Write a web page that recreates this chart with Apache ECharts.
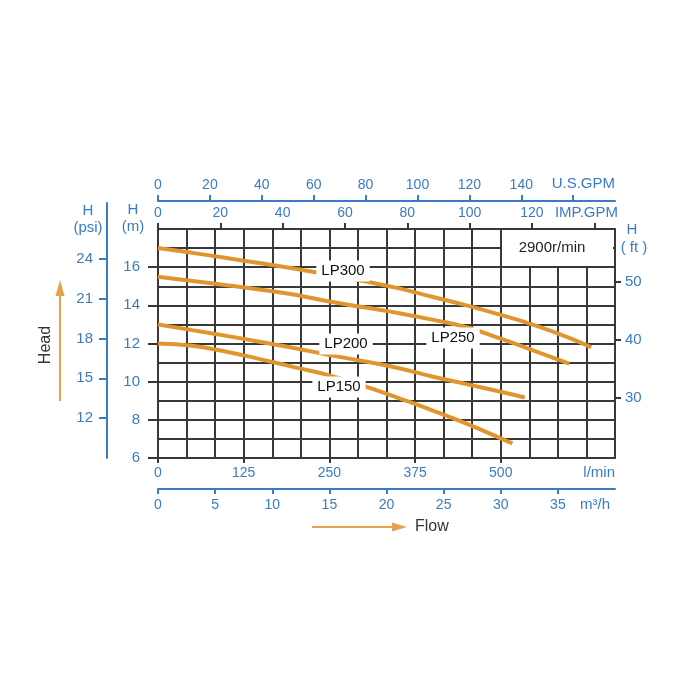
<!DOCTYPE html>
<html>
<head>
<meta charset="utf-8">
<script src="https://cdn.jsdelivr.net/npm/echarts@6/dist/echarts.min.js"></script>
<style>
  html, body { margin: 0; padding: 0; background: #fff; }
  #chart { width: 700px; height: 700px; }
</style>
</head>
<body>
<div id="chart"></div>
<script>
// 流量 l/min ，扬程 m
const lp300 = [[0, 17.0], [50, 16.75], [100, 16.48], [150, 16.2], [200, 15.92], [250, 15.6], [300, 15.27], [350, 14.9], [400, 14.45], [450, 14.0], [500, 13.5], [550, 12.95], [600, 12.3], [632, 11.8]]
const lp250 = [[0, 15.5], [50, 15.28], [100, 15.05], [150, 14.82], [200, 14.55], [250, 14.2], [300, 13.9], [350, 13.6], [400, 13.25], [450, 12.85], [500, 12.25], [550, 11.6], [600, 10.95]]
const lp200 = [[0, 13.0], [50, 12.7], [100, 12.4], [150, 12.08], [200, 11.75], [250, 11.4], [300, 11.07], [350, 10.72], [400, 10.27], [450, 9.87], [500, 9.47], [535, 9.17]]
const lp150 = [[0, 12.0], [50, 11.88], [100, 11.57], [150, 11.17], [200, 10.75], [250, 10.33], [300, 9.78], [350, 9.15], [400, 8.5], [450, 7.8], [500, 7.03], [517, 6.77]]

// 刻度标签
const lminTicks = [0, 125, 250, 375, 500]
const m3hTicks = [0, 5, 10, 15, 20, 25, 30, 35]
const impTicks = [0, 20, 40, 60, 80, 100, 120]
const impMarks = [0, 20, 40, 60, 80, 100, 120, 140]
const usTicks = [0, 20, 40, 60, 80, 100, 120, 140]
const usMarks = [0, 20, 40, 60, 80, 100, 120, 140, 160]
const mTicks = [6, 8, 10, 12, 14, 16]
const ftTicks = [30, 40, 50]
const psiTicks = [12, 15, 18, 21, 24]

const QMAX = 2000 / 3
const BLUE = '#3a7cc1'
const GRID = '#383838'
const ORANGE = '#e0952e'
const FONT = '"Liberation Sans", Arial, sans-serif'

const chart = echarts.init(document.getElementById('chart'))

const blueLabel = (values, margin, size) => ({
  customValues: values,
  color: BLUE,
  fontSize: size || 14,
  fontFamily: FONT,
  margin: margin
})

const curve = (name, data) => ({
  name: name,
  type: 'line',
  xAxisIndex: 0,
  yAxisIndex: 0,
  data: data,
  smooth: true,
  symbol: 'none',
  z: 5,
  lineStyle: { color: ORANGE, width: 4 }
})

const text = (x, y, str, extra) => ({
  type: 'text',
  x: x,
  y: y,
  z: 100,
  style: Object.assign({
    text: str,
    fill: BLUE,
    fontSize: 14,
    fontFamily: FONT,
    align: 'center',
    verticalAlign: 'middle'
  }, extra || {})
})

const tag = (x, y, str) => text(x, y, str, {
  fill: '#111',
  fontSize: 15,
  backgroundColor: '#fff',
  padding: [3, 5]
})

const noLine = { show: false }

const option = {
  animation: false,
  grid: [
    { left: 158, right: 85, top: 229, bottom: 242 },
    { left: 107, width: 10, top: 203, bottom: 242 },
    { left: 615, width: 10, top: 229, bottom: 242 }
  ],
  xAxis: [
    // 网格用
    {
      gridIndex: 0,
      type: 'value',
      position: 'bottom',
      min: 0,
      max: QMAX,
      interval: QMAX / 16,
      axisLine: { show: true, lineStyle: { color: GRID, width: 2 } },
      axisTick: noLine,
      axisLabel: noLine,
      splitLine: { show: true, lineStyle: { color: GRID, width: 2 } }
    },
    {
      gridIndex: 0,
      type: 'value',
      position: 'bottom',
      min: 0,
      max: QMAX,
      axisLine: noLine,
      axisTick: { show: true, customValues: lminTicks, length: 5, lineStyle: { color: GRID, width: 2 } },
      axisLabel: blueLabel(lminTicks, 8),
      splitLine: noLine
    },
    {
      gridIndex: 0,
      type: 'value',
      position: 'bottom',
      offset: 31,
      min: 0,
      max: 40,
      axisLine: { show: true, lineStyle: { color: BLUE, width: 2 } },
      axisTick: { show: true, customValues: m3hTicks, length: 5, lineStyle: { color: BLUE, width: 2 } },
      axisLabel: blueLabel(m3hTicks, 9),
      splitLine: noLine
    },
    {
      gridIndex: 0,
      type: 'value',
      position: 'top',
      min: 0,
      max: QMAX / 4.54609,
      axisLine: { show: true, lineStyle: { color: GRID, width: 2 } },
      axisTick: { show: true, customValues: impMarks, length: 6, lineStyle: { color: GRID, width: 2 } },
      axisLabel: blueLabel(impTicks, 9),
      splitLine: noLine
    },
    {
      gridIndex: 0,
      type: 'value',
      position: 'top',
      offset: 28,
      min: 0,
      max: QMAX / 3.78541,
      axisLine: { show: true, lineStyle: { color: BLUE, width: 2 } },
      axisTick: { show: true, customValues: usMarks, length: 6, lineStyle: { color: BLUE, width: 2 } },
      axisLabel: blueLabel(usTicks, 9),
      splitLine: noLine
    },
    { gridIndex: 1, type: 'value', show: false },
    { gridIndex: 2, type: 'value', show: false }
  ],
  yAxis: [
    // 网格用
    {
      gridIndex: 0,
      type: 'value',
      position: 'left',
      min: 6,
      max: 18,
      interval: 1,
      axisLine: { show: true, lineStyle: { color: GRID, width: 2 } },
      axisTick: noLine,
      axisLabel: noLine,
      splitLine: { show: true, lineStyle: { color: GRID, width: 2 } }
    },
    {
      gridIndex: 0,
      type: 'value',
      position: 'left',
      min: 6,
      max: 18,
      axisLine: noLine,
      axisTick: { show: true, customValues: mTicks, length: 10, lineStyle: { color: GRID, width: 2 } },
      axisLabel: blueLabel(mTicks, 18, 15),
      splitLine: noLine
    },
    {
      gridIndex: 2,
      type: 'value',
      position: 'left',
      min: 6 * 3.28084,
      max: 18 * 3.28084,
      axisLine: { show: true, lineStyle: { color: GRID, width: 2 } },
      axisTick: { show: true, inside: true, customValues: ftTicks, length: 6, lineStyle: { color: GRID, width: 2 } },
      axisLabel: Object.assign(blueLabel(ftTicks, 10, 15), { inside: true }),
      splitLine: noLine
    },
    {
      gridIndex: 1,
      type: 'value',
      position: 'left',
      min: 9,
      max: 28.2,
      axisLine: { show: true, lineStyle: { color: BLUE, width: 2 } },
      axisTick: { show: true, customValues: psiTicks, length: 8, lineStyle: { color: BLUE, width: 2 } },
      axisLabel: blueLabel(psiTicks, 14, 15),
      splitLine: noLine
    }
  ],
  series: [
    curve('LP300', lp300),
    curve('LP250', lp250),
    curve('LP200', lp200),
    curve('LP150', lp150)
  ],
  graphic: [
    // 单位
    text(88, 211, 'H', { fontSize: 15 }),
    text(88, 228, '(psi)', { fontSize: 15 }),
    text(133, 210, 'H', { fontSize: 15 }),
    text(133, 227, '(m)', { fontSize: 15 }),
    text(632, 230, 'H', { fontSize: 15 }),
    text(634, 248, '( ft )', { fontSize: 15 }),
    text(615, 184, 'U.S.GPM', { align: 'right', fontSize: 15 }),
    text(618, 213, 'IMP.GPM', { align: 'right', fontSize: 15 }),
    text(615, 473, 'l/min', { align: 'right', fontSize: 15 }),
    text(610, 505, 'm³/h', { align: 'right', fontSize: 15 }),
    // 转速
    {
      type: 'rect',
      z: 90,
      shape: { x: 502, y: 230, width: 111, height: 36 },
      style: { fill: '#fff' }
    },
    text(552, 248, '2900r/min', { fill: '#222', fontSize: 15 }),
    // 曲线名称
    tag(343, 271, 'LP300'),
    tag(453, 338, 'LP250'),
    tag(346, 344, 'LP200'),
    tag(339, 387, 'LP150'),
    // Head 箭头
    {
      type: 'line',
      z: 100,
      shape: { x1: 60, y1: 401, x2: 60, y2: 292 },
      style: { stroke: '#e8a050', lineWidth: 2 }
    },
    {
      type: 'polygon',
      z: 100,
      shape: { points: [[55.5, 296], [64.5, 296], [60, 280]] },
      style: { fill: '#e8a050' }
    },
    {
      type: 'text',
      x: 46,
      y: 345,
      rotation: Math.PI / 2,
      z: 100,
      style: { text: 'Head', fill: '#333', fontSize: 16, fontFamily: FONT, align: 'center', verticalAlign: 'middle' }
    },
    // Flow 箭头
    {
      type: 'line',
      z: 100,
      shape: { x1: 312, y1: 527, x2: 396, y2: 527 },
      style: { stroke: '#e8a050', lineWidth: 2 }
    },
    {
      type: 'polygon',
      z: 100,
      shape: { points: [[392, 522.5], [392, 531.5], [407, 527]] },
      style: { fill: '#e8a050' }
    },
    text(415, 527, 'Flow', { fill: '#333', fontSize: 16, align: 'left' })
  ]
}

chart.setOption(option)
</script>
</body>
</html>
